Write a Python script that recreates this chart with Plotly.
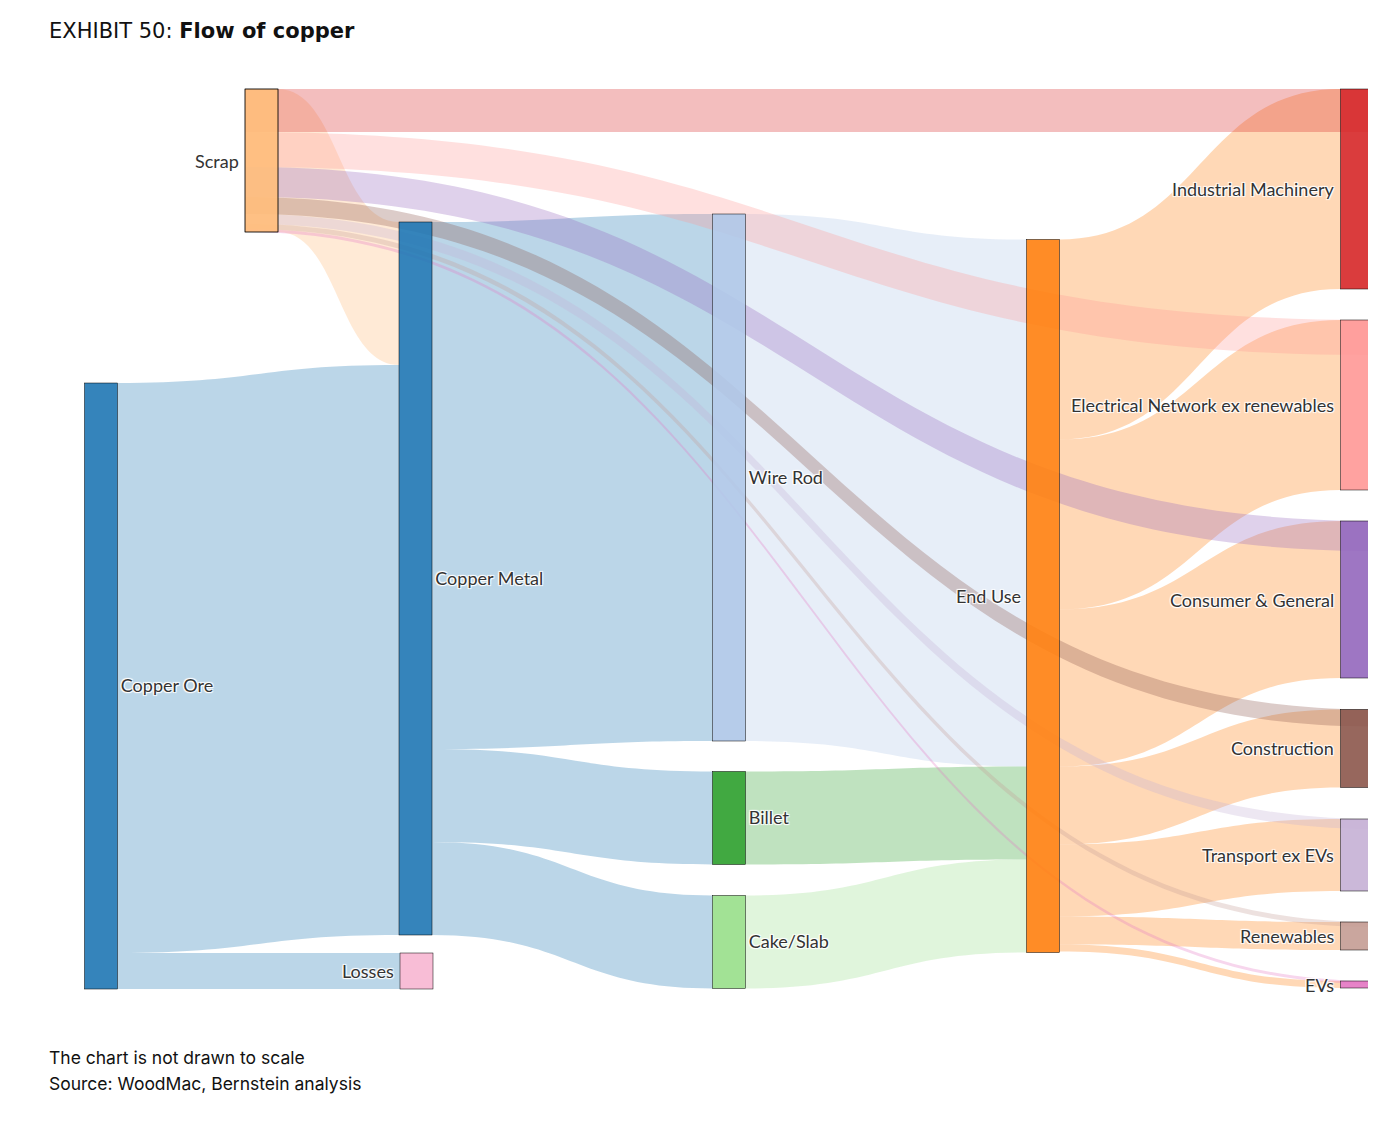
import plotly.graph_objects as go

# ---------------- data ----------------
# "Scrap" appears twice: the node that collects end-of-life copper (fed by the end uses)
# and the node that sends it back into Copper Metal. Both sit at the same place.
node_names = ["Scrap", "Copper Ore", "Copper Metal", "Losses", "Wire Rod", "Billet",
              "Cake/Slab", "End Use", "Industrial Machinery",
              "Electrical Network ex renewables", "Consumer & General", "Construction",
              "Transport ex EVs", "Renewables", "EVs", "Scrap (collected)"]
node_colors_hex = ["#ffbb78", "#1f77b4", "#1f77b4", "#f7b6d2", "#aec7e8", "#2ca02c",
                   "#98df8a", "#ff7f0e", "#d62728", "#ff9896", "#9467bd", "#8c564b",
                   "#c5b0d5", "#c49c94", "#e377c2", "#ffbb78"]

link_source = ["Copper Ore", "Copper Ore", "Scrap", "Copper Metal", "Copper Metal", "Copper Metal",
               "Wire Rod", "Billet", "Cake/Slab",
               "End Use", "End Use", "End Use", "End Use", "End Use", "End Use", "End Use",
               "Industrial Machinery", "Electrical Network ex renewables", "Consumer & General",
               "Construction", "Transport ex EVs", "Renewables", "EVs"]
link_target = ["Copper Metal", "Losses", "Copper Metal", "Wire Rod", "Billet", "Cake/Slab",
               "End Use", "End Use", "End Use",
               "Industrial Machinery", "Electrical Network ex renewables", "Consumer & General",
               "Construction", "Transport ex EVs", "Renewables", "EVs",
               "Scrap (collected)", "Scrap (collected)", "Scrap (collected)", "Scrap (collected)",
               "Scrap (collected)", "Scrap (collected)", "Scrap (collected)"]
link_value = [570, 36, 143, 527, 93, 93,
              527, 93, 93,
              200, 170, 157, 78, 72, 28, 7,
              43, 35, 30, 17, 10, 5, 3]

# node centre positions (fractions of the plot area)
node_x = [0.18531, 0.06798, 0.29788, 0.29861, 0.52705, 0.52705, 0.52705, 0.75658,
          0.98611, 0.98611, 0.98611, 0.98611, 0.98611, 0.98611, 0.98611, 0.18531]
node_y = [0.08948, 0.65944, 0.54284, 0.96855, 0.43330, 0.80260, 0.93709, 0.56182,
          0.12039, 0.35466, 0.56562, 0.72722, 0.84273, 0.93059, 0.98319, 0.08948]

# labels drawn to the left of their node
left_labels = {"Scrap (collected)": "Scrap", "Losses": "Losses", "End Use": "End Use",
               "Industrial Machinery": "Industrial Machinery",
               "Electrical Network ex renewables": "Electrical Network ex renewables",
               "Consumer & General": "Consumer & General", "Construction": "Construction",
               "Transport ex EVs": "Transport ex EVs", "Renewables": "Renewables", "EVs": "EVs"}
hidden_label_nodes = {"Scrap"}

title_regular = "EXHIBIT 50: "
title_bold = "Flow of copper"
note_lines = ["The chart is not drawn to scale", "Source: WoodMac, Bernstein analysis"]

# ---------------- figure ----------------
W, H = 1368, 1100
M_T, M_B = 70, 108
PW, PH = W, H - M_T - M_B
THICK = 33
PAD = 35
LABEL_FONT = dict(family="Lato", size=18, color="#333")
SHADOW = "1px 1px 1px #fff, -1px -1px 1px #fff, 1px -1px 1px #fff, -1px 1px 1px #fff"


def rgba(h, a):
    h = h.lstrip("#")
    r, g, b = int(h[0:2], 16), int(h[2:4], 16), int(h[4:6], 16)
    return f"rgba({r},{g},{b},{a})"


idx = {n: i for i, n in enumerate(node_names)}
src = [idx[s] for s in link_source]
tgt = [idx[t] for t in link_target]
node_colors = [rgba(c, 0.9) for c in node_colors_hex]
node_line_c = ["#444"] * len(node_names)
# the collecting scrap node is drawn by its twin
node_colors[idx["Scrap (collected)"]] = "rgba(0,0,0,0)"
node_line_c[idx["Scrap (collected)"]] = "rgba(0,0,0,0)"
link_colors = [rgba(node_colors_hex[s], 0.3) for s in src]
display_labels = ["" if (n in left_labels or n in hidden_label_nodes) else n for n in node_names]

fig = go.Figure(go.Sankey(
    arrangement="fixed",
    node=dict(
        label=display_labels,
        color=node_colors,
        x=node_x,
        y=node_y,
        pad=PAD,
        thickness=THICK,
        line=dict(color=node_line_c, width=0.5),
        hoverinfo="none",
    ),
    link=dict(source=src, target=tgt, value=link_value, color=link_colors, hoverinfo="none"),
    textfont=LABEL_FONT,
))

fig.update_layout(
    width=W,
    height=H,
    margin=dict(l=0, r=0, t=M_T, b=M_B),
    paper_bgcolor="white",
    plot_bgcolor="white",
)


def font_with_shadow(base):
    f = dict(base)
    f["shadow"] = SHADOW
    return f


def add_ann(**kw):
    try:
        fig.add_annotation(**kw)
    except ValueError:
        f = dict(kw["font"])
        f.pop("shadow", None)
        kw["font"] = f
        fig.add_annotation(**kw)


# left-side node labels
for name, text in left_labels.items():
    i = idx[name]
    left_px = node_x[i] * PW - THICK / 2 - 4
    add_ann(text=text, x=left_px / PW, y=1 - node_y[i], xref="paper", yref="paper",
            xanchor="right", yanchor="middle", showarrow=False,
            font=font_with_shadow(LABEL_FONT))


def px(xp, yp):
    # figure pixels -> paper coordinates
    return xp / PW, 1 - (yp - M_T) / PH


tx, ty = px(39, 23)
fig.add_annotation(text=title_regular + "<b>" + title_bold + "</b>", x=tx, y=ty,
                   xref="paper", yref="paper", xanchor="left", yanchor="middle",
                   showarrow=False, font=dict(family="DejaVu Sans", size=21, color="#111"))
for k, line in enumerate(note_lines):
    nx, ny = px(39, 1049 + 26 * k)
    fig.add_annotation(text=line, x=nx, y=ny, xref="paper", yref="paper",
                       xanchor="left", yanchor="middle", showarrow=False,
                       font=dict(family="Inter", size=17.5, color="#111"))

fig.write_html("out.html")
